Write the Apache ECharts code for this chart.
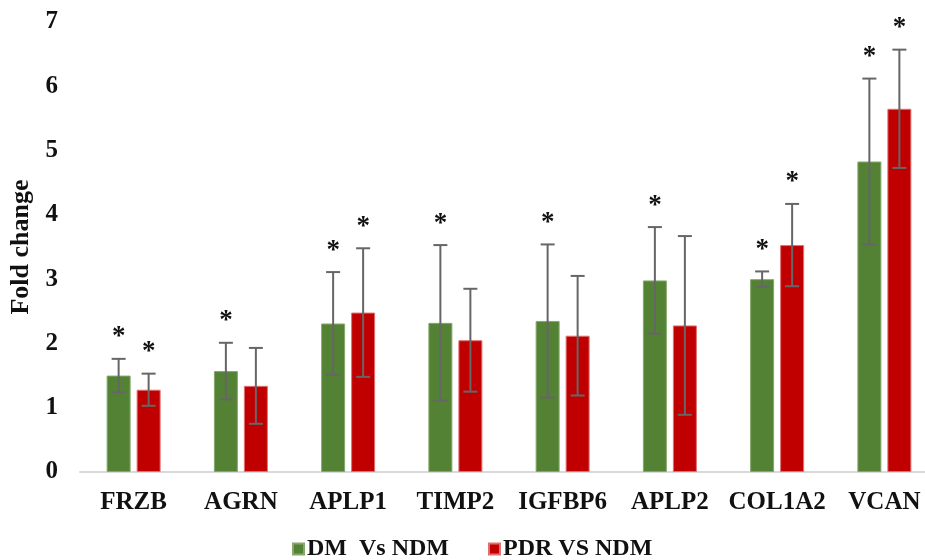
<!DOCTYPE html>
<html>
<head>
<meta charset="utf-8">
<style>
  html, body { margin: 0; padding: 0; background: #ffffff; }
  #chart { width: 925px; height: 560px; }
</style>
<script src="https://cdn.jsdelivr.net/npm/echarts@6/dist/echarts.min.js"></script>
</head>
<body>
<div id="chart"></div>
<script>
// Genes on the x axis
const categories = ['FRZB', 'AGRN', 'APLP1', 'TIMP2', 'IGFBP6', 'APLP2', 'COL1A2', 'VCAN'];

// DM vs NDM: mean fold change and error
const dmMean = [1.50, 1.57, 2.31, 2.32, 2.35, 2.98, 3.00, 4.83];
const dmErr  = [0.26, 0.44, 0.80, 1.21, 1.19, 0.83, 0.12, 1.29];
const dmSig  = [true, true, true, true, true, true, true, true];

// PDR vs NDM: mean fold change and error
const pdrMean = [1.28, 1.34, 2.48, 2.05, 2.12, 2.28, 3.53, 5.65];
const pdrErr  = [0.25, 0.59, 1.00, 0.80, 0.93, 1.39, 0.64, 0.92];
const pdrSig  = [true, false, true, false, false, false, true, true];

// Y axis ticks
const yTicks = [0, 1, 2, 3, 4, 5, 6, 7];

const seriesNames = ['DM  Vs NDM', 'PDR VS NDM'];
const GREEN = '#548235';
const RED = '#C00000';
const FONT = '"Liberation Serif", "Times New Roman", serif';
const BAR_W = 24;
const BAR_OFFSET = 15;   // half of (bar width + gap)

function errorRenderer(offsetSign, means, errs, sig) {
  return function (params, api) {
    const i = api.value(0);
    const m = means[i], e = errs[i];
    const top = api.coord([i, m + e]);
    const bot = api.coord([i, m - e]);
    const x = top[0] + offsetSign * BAR_OFFSET;
    const cap = 7;
    const lineStyle = { stroke: '#666666', lineWidth: 2 };
    const children = [
      { type: 'line', shape: { x1: x, y1: top[1], x2: x, y2: bot[1] }, style: lineStyle },
      { type: 'line', shape: { x1: x - cap, y1: top[1], x2: x + cap, y2: top[1] }, style: lineStyle },
      { type: 'line', shape: { x1: x - cap, y1: bot[1], x2: x + cap, y2: bot[1] }, style: lineStyle }
    ];
    if (sig[i]) {
      children.push({
        type: 'text',
        style: {
          text: '*', x: x, y: top[1] - 8,
          textAlign: 'center', textVerticalAlign: 'bottom',
          font: 'bold 27px ' + FONT, fill: '#111111'
        }
      });
    }
    return { type: 'group', children: children };
  };
}

const chart = echarts.init(document.getElementById('chart'), null, { renderer: 'canvas' });

chart.setOption({
  animation: false,
  backgroundColor: '#ffffff',
  grid: { left: 80, top: 22, width: 858, height: 450, containLabel: false, outerBoundsMode: 'none' },
  legend: {
    data: seriesNames,
    left: 287,
    top: 532,
    itemWidth: 11,
    itemHeight: 11,
    itemGap: 39,
    icon: 'rect',
    textStyle: { fontFamily: FONT, fontWeight: 'bold', fontSize: 24, color: '#111111', padding: [0, 0, 0, -2] }
  },
  xAxis: {
    type: 'category',
    data: categories,
    axisLine: { lineStyle: { color: '#d9d9d9', width: 2 } },
    axisTick: { show: false },
    axisLabel: { interval: 0, hideOverlap: false, fontFamily: FONT, fontWeight: 'bold', fontSize: 25, color: '#111111', margin: 18 }
  },
  yAxis: {
    type: 'value',
    min: yTicks[0],
    max: yTicks[yTicks.length - 1],
    interval: 1,
    name: 'Fold change',
    nameLocation: 'middle',
    nameRotate: 90,
    nameGap: 40,
    nameTextStyle: { fontFamily: FONT, fontWeight: 'bold', fontSize: 26, color: '#111111' },
    axisLine: { show: false },
    axisTick: { show: false },
    splitLine: { show: false },
    axisLabel: { fontFamily: FONT, fontWeight: 'bold', fontSize: 25, color: '#111111', margin: 22 }
  },
  series: [
    {
      name: seriesNames[0], type: 'bar', data: dmMean, barWidth: BAR_W, barGap: '25%',
      itemStyle: { color: GREEN, borderColor: '#86a86c', borderWidth: 1 }
    },
    {
      name: seriesNames[1], type: 'bar', data: pdrMean, barWidth: BAR_W, barGap: '25%',
      itemStyle: { color: RED, borderColor: '#e07070', borderWidth: 1 }
    },
    {
      type: 'custom', silent: true, z: 5,
      data: categories.map((c, i) => [i]),
      renderItem: errorRenderer(-1, dmMean, dmErr, dmSig)
    },
    {
      type: 'custom', silent: true, z: 5,
      data: categories.map((c, i) => [i]),
      renderItem: errorRenderer(1, pdrMean, pdrErr, pdrSig)
    }
  ]
});
</script>
</body>
</html>
